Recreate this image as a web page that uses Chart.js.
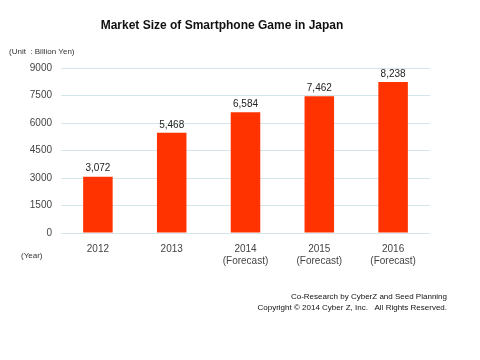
<!DOCTYPE html>
<html>
<head>
<meta charset="utf-8">
<script src="https://cdn.jsdelivr.net/npm/chart.js@4/dist/chart.umd.min.js"></script>
<style>
html,body{margin:0;padding:0;background:#fff;}
canvas{display:block;}
</style>
</head>
<body>
<canvas id="c" width="480" height="360"></canvas>
<script>
const categories = [["2012"], ["2013"], ["2014", "(Forecast)"], ["2015", "(Forecast)"], ["2016", "(Forecast)"]];
const marketSize = [3072, 5468, 6584, 7462, 8238];
const yTicks = [0, 1500, 3000, 4500, 6000, 7500, 9000];
const titleText = "Market Size of Smartphone Game in Japan";
const unitText = "(Unit \u00a0: Billion Yen)";
const yearText = "(Year)";
const footer1 = "Co-Research by CyberZ and Seed Planning";
const footer2 = "Copyright \u00a9 2014 Cyber Z, Inc.\u00a0\u00a0 All Rights Reserved.";

const FONT = "'Liberation Sans', Arial, sans-serif";

const extras = {
  id: 'extras',
  afterDraw(chart) {
    const ctx = chart.ctx;
    ctx.save();
    ctx.fillStyle = '#111';
    ctx.font = 'bold 12px ' + FONT;
    ctx.textAlign = 'center';
    ctx.textBaseline = 'middle';
    ctx.fillText(titleText, 222, 26);
    ctx.font = '8px ' + FONT;
    ctx.fillStyle = '#333';
    ctx.textAlign = 'left';
    ctx.fillText(unitText, 9, 52);
    ctx.fillText(yearText, 21, 256);
    ctx.textAlign = 'right';
    ctx.fillStyle = '#111';
    ctx.fillText(footer1, 447, 297);
    ctx.fillText(footer2, 447, 308);
    // data labels
    const meta = chart.getDatasetMeta(0);
    ctx.font = '10px ' + FONT;
    ctx.fillStyle = '#222';
    ctx.textAlign = 'center';
    ctx.textBaseline = 'bottom';
    meta.data.forEach((bar, i) => {
      ctx.fillText(marketSize[i].toLocaleString('en-US'), bar.x, bar.y - 3);
    });
    ctx.restore();
  }
};

new Chart(document.getElementById('c'), {
  type: 'bar',
  data: {
    labels: categories,
    datasets: [{
      data: marketSize,
      backgroundColor: '#ff3300',
      barPercentage: 0.8,
      categoryPercentage: 0.5
    }]
  },
  options: {
    responsive: false,
    animation: false,
    devicePixelRatio: 1,
    layout: { padding: { left: 0, right: 50, top: 68, bottom: 0 } },
    plugins: { legend: { display: false }, tooltip: { enabled: false }, title: { display: false } },
    scales: {
      x: {
        grid: { display: false },
        border: { display: false },
        ticks: { color: '#444', font: { size: 10, family: FONT }, padding: 2, maxRotation: 0 },
        afterFit(scale) { scale.height = 127; }
      },
      y: {
        min: 0, max: 9000,
        afterBuildTicks(scale) { scale.ticks = yTicks.map(v => ({ value: v })); },
        grid: { color: '#d3e6ec', drawTicks: false, lineWidth: 1 },
        border: { display: false },
        ticks: { color: '#444', font: { size: 10, family: FONT }, padding: 9, callback: (v) => String(v) },
        afterFit(scale) { scale.width = 61; }
      }
    }
  },
  plugins: [extras]
});
</script>
</body>
</html>
